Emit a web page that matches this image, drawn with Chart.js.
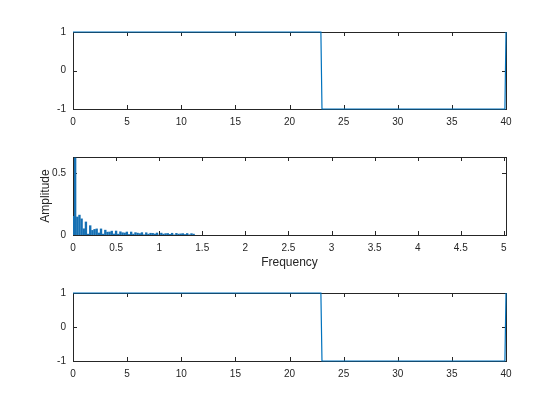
<!DOCTYPE html>
<html>
<head>
<meta charset="utf-8">
<script src="https://cdn.jsdelivr.net/npm/chart.js@4/dist/chart.umd.min.js"></script>
<style>
  body { margin: 0; background: #fff; }
  .wrap { position: relative; width: 560px; height: 420px; }
  canvas { position: absolute; left: 0; }
  #err { position: absolute; left: 0; top: 400px; font: 10px sans-serif; color: red; }
</style>
</head>
<body>
<div class="wrap">
  <canvas id="c1" width="560" height="140" style="top:0"></canvas>
  <canvas id="c2" width="560" height="140" style="top:140px"></canvas>
  <canvas id="c3" width="560" height="140" style="top:280px"></canvas>
  <div id="err"></div>
</div>
<script>
// time signal (top) and reconstructed signal (bottom)
const timeT = [0, 22.9, 23, 39.9, 40];
const signalY = [1, 1, -1, -1, 1];
const recT = [0, 22.9, 23, 39.9, 40];
const recY = [1, 1, -1, -1, 1];

// amplitude spectrum
const freqs = [0, 0.025, 0.05, 0.075, 0.1, 0.125, 0.15, 0.175, 0.2, 0.225,
  0.25, 0.275, 0.3, 0.325, 0.35, 0.375, 0.4, 0.425, 0.45, 0.475,
  0.5, 0.525, 0.55, 0.575, 0.6, 0.625, 0.65, 0.675, 0.7, 0.725,
  0.75, 0.775, 0.8, 0.825, 0.85, 0.875, 0.9, 0.925, 0.95, 0.975,
  1, 1.025, 1.05, 1.075, 1.1, 1.125, 1.15, 1.175, 1.2, 1.225,
  1.25, 1.275, 1.3, 1.325, 1.35, 1.375, 1.4];
const amps = [0.15, 0.62, 0.145, 0.16, 0.13, 0.05, 0.105, 0.007, 0.075, 0.037,
  0.045, 0.049, 0.016, 0.049, 0.007, 0.039, 0.023, 0.024, 0.031, 0.008,
  0.032, 0.007, 0.026, 0.018, 0.016, 0.024, 0.004, 0.024, 0.007, 0.019,
  0.015, 0.011, 0.019, 0.002, 0.018, 0.007, 0.014, 0.013, 0.008, 0.016,
  0, 0.015, 0.007, 0.011, 0.012, 0.005, 0.014, 0.001, 0.013, 0.007,
  0.009, 0.011, 0.004, 0.012, 0.002, 0.011, 0.007];

const timeTicks = [0, 5, 10, 15, 20, 25, 30, 35, 40];
const signalTicks = [-1, 0, 1];
const freqTicks = [0, 0.5, 1, 1.5, 2, 2.5, 3, 3.5, 4, 4.5, 5];
const ampTicks = [0, 0.5];

const axisColor = '#262626';
const lineColor = '#0072BD';
const tickFont = { family: 'Liberation Sans, Arial, sans-serif', size: 10 };
const titleFont = { family: 'Liberation Sans, Arial, sans-serif', size: 12 };

// MATLAB style box with inward ticks on all four sides, drawn under the data
const boxPlugin = {
  id: 'matlabBox',
  beforeDatasetsDraw(chart) {
    try {
      const ctx = chart.ctx;
      const a = chart.chartArea;
      const xs = chart.scales.x, ys = chart.scales.y;
      const L = 4;
      ctx.save();
      ctx.strokeStyle = axisColor;
      ctx.lineWidth = 1;
      ctx.beginPath();
      xs.ticks.forEach(t => {
        const px = Math.round(xs.getPixelForValue(t.value)) + 0.5;
        ctx.moveTo(px, a.bottom); ctx.lineTo(px, a.bottom - L);
        ctx.moveTo(px, a.top); ctx.lineTo(px, a.top + L);
      });
      ys.ticks.forEach(t => {
        const py = Math.round(ys.getPixelForValue(t.value)) + 0.5;
        ctx.moveTo(a.left, py); ctx.lineTo(a.left + L, py);
        ctx.moveTo(a.right, py); ctx.lineTo(a.right - L, py);
      });
      ctx.stroke();
      ctx.strokeRect(Math.round(a.left) + 0.5, Math.round(a.top) + 0.5,
        Math.round(a.right - a.left), Math.round(a.bottom - a.top));
      ctx.restore();
    } catch (e) {
      document.getElementById('err').textContent += e.message + ' ';
    }
  }
};

const fmt = v => String(v);

function axes(xmin, xmax, xticks, ymin, ymax, yticks, xh, yw, xTitle, yTitle) {
  return {
    x: {
      type: 'linear', min: xmin, max: xmax, offset: false,
      grid: { display: false, drawTicks: false },
      border: { display: false },
      afterBuildTicks: s => { s.ticks = xticks.map(v => ({ value: v })); },
      afterFit: s => { s.height = xh; },
      ticks: { color: axisColor, font: tickFont, padding: 7, maxRotation: 0, autoSkip: false, callback: fmt },
      title: xTitle ? { display: true, text: xTitle, color: axisColor, font: titleFont, padding: { top: 0, bottom: 10 } } : { display: false }
    },
    y: {
      type: 'linear', min: ymin, max: ymax,
      grid: { display: false, drawTicks: false },
      border: { display: false },
      afterBuildTicks: s => { s.ticks = yticks.map(v => ({ value: v })); },
      afterFit: s => { s.width = yw; },
      ticks: { color: axisColor, font: tickFont, padding: 7, autoSkip: false, callback: fmt },
      title: yTitle ? { display: true, text: yTitle, color: axisColor, font: titleFont, padding: { top: 38, bottom: 0 } } : { display: false }
    }
  };
}

function signalChart(id, tx, ty, padTop, xh) {
  return new Chart(document.getElementById(id), {
    type: 'line',
    data: {
      datasets: [{
        data: tx.map((t, i) => ({ x: t, y: ty[i] })),
        borderColor: lineColor, borderWidth: 1.2,
        pointRadius: 0, tension: 0, fill: false, clip: 3
      }]
    },
    options: {
      responsive: false, animation: false,
      layout: { padding: { top: padTop, right: 54, bottom: 0, left: 0 } },
      plugins: { legend: { display: false }, tooltip: { enabled: false } },
      scales: axes(0, 40, timeTicks, -1, 1, signalTicks, xh, 73)
    },
    plugins: [boxPlugin]
  });
}

signalChart('c1', timeT, signalY, 32, 31);
signalChart('c3', recT, recY, 3, 59);

new Chart(document.getElementById('c2'), {
  type: 'bar',
  data: {
    datasets: [{
      data: freqs.map((f, i) => ({ x: f, y: amps[i] })),
      backgroundColor: '#1670b3',
      borderWidth: 0,
      barThickness: 1.7
    }]
  },
  options: {
    responsive: false, animation: false,
    layout: { padding: { top: 17, right: 54, bottom: 0, left: 0 } },
    plugins: { legend: { display: false }, tooltip: { enabled: false } },
    scales: axes(0, 5.025, freqTicks, 0, 0.628, ampTicks, 45, 73, 'Frequency', 'Amplitude')
  },
  plugins: [boxPlugin]
});
</script>
</body>
</html>
